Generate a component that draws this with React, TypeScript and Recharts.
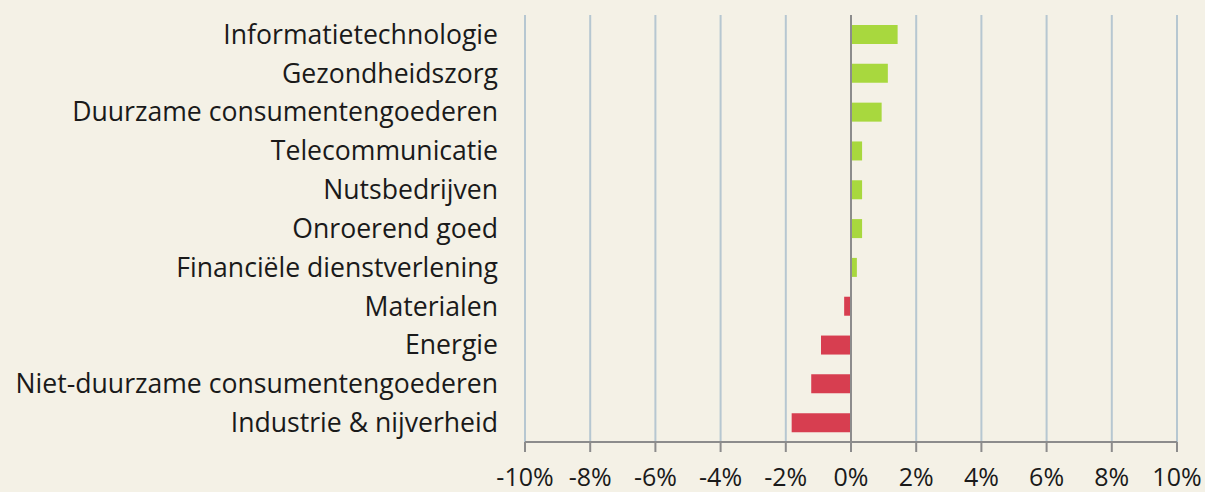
import {
  BarChart,
  Bar,
  XAxis,
  YAxis,
  CartesianGrid,
  ReferenceLine,
  Cell,
} from "recharts";

const sectors = [
  "Informatietechnologie",
  "Gezondheidszorg",
  "Duurzame consumentengoederen",
  "Telecommunicatie",
  "Nutsbedrijven",
  "Onroerend goed",
  "Financiële dienstverlening",
  "Materialen",
  "Energie",
  "Niet-duurzame consumentengoederen",
  "Industrie & nijverheid",
];

const returns = [1.43, 1.13, 0.94, 0.34, 0.34, 0.34, 0.18, -0.21, -0.92, -1.22, -1.82];

const xTicks = [-10, -8, -6, -4, -2, 0, 2, 4, 6, 8, 10];

const data = sectors.map((name, i) => ({ name, value: returns[i] }));

const FONT = "'Open Sans', sans-serif";

export default function App() {
  return (
    <div
      style={{
        position: "absolute",
        left: 0,
        top: 0,
        width: 1205,
        height: 492,
        background: "#f4f1e6",
        fontFamily: FONT,
      }}
    >
      <BarChart
        width={1205}
        height={492}
        data={data}
        layout="vertical"
        margin={{ top: 15, right: 28, left: 0, bottom: 0 }}
        barSize={19}
      >
        <CartesianGrid
          horizontal={false}
          stroke="#b6c7d1"
          strokeWidth={2}
        />
        <XAxis
          type="number"
          domain={[-10, 10]}
          ticks={xTicks}
          tickFormatter={(v: number) => `${v}%`}
          height={50}
          stroke="#8c8c8c"
          strokeWidth={2}
          tickSize={10}
          tickMargin={16}
          tick={{ fontSize: 25, fill: "#1a1a1a", fontFamily: FONT }}
          interval={0}
        />
        <YAxis
          type="category"
          dataKey="name"
          width={525}
          axisLine={false}
          tickLine={false}
          tickSize={0}
          tickMargin={27}
          interval={0}
          tick={{ fontSize: 26.6, fill: "#1a1a1a", fontFamily: FONT }}
        />
        <ReferenceLine x={0} stroke="#8c8c8c" strokeWidth={2} />
        <Bar dataKey="value" isAnimationActive={false}>
          {data.map((d) => (
            <Cell key={d.name} fill={d.value >= 0 ? "#a8d83e" : "#d73e50"} />
          ))}
        </Bar>
      </BarChart>
    </div>
  );
}
